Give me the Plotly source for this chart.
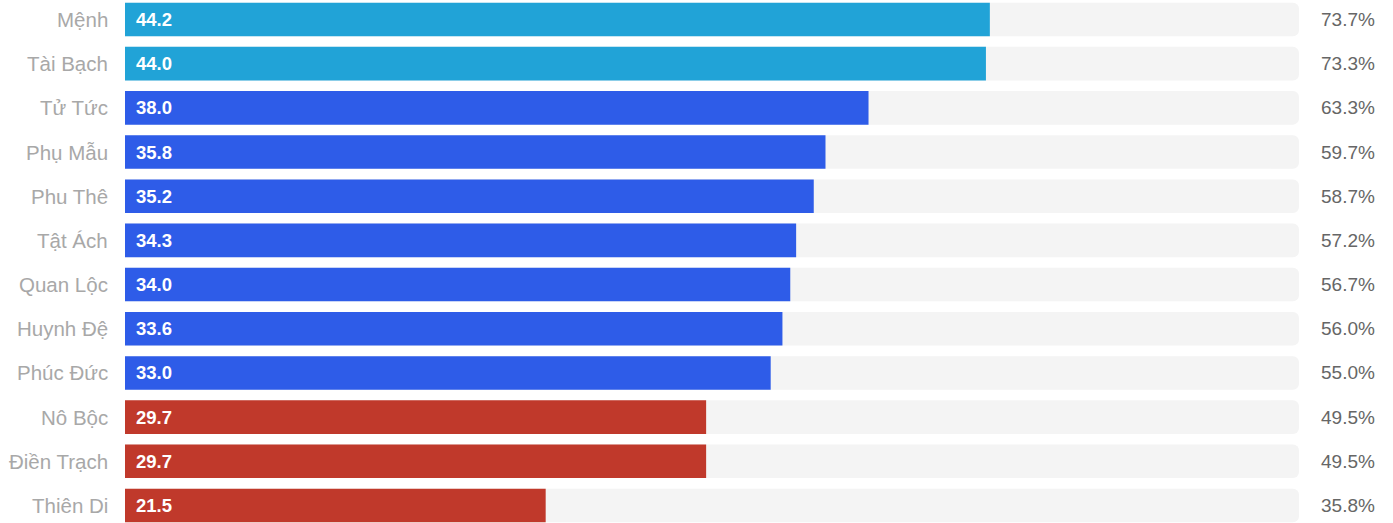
import plotly.graph_objects as go

categories = ["Mệnh", "Tài Bạch", "Tử Tức", "Phụ Mẫu", "Phu Thê", "Tật Ách",
              "Quan Lộc", "Huynh Đệ", "Phúc Đức", "Nô Bộc", "Điền Trạch", "Thiên Di"]
values = [44.2, 44.0, 38.0, 35.8, 35.2, 34.3, 34.0, 33.6, 33.0, 29.7, 29.7, 21.5]
percents = ["73.7%", "73.3%", "63.3%", "59.7%", "58.7%", "57.2%",
            "56.7%", "56.0%", "55.0%", "49.5%", "49.5%", "35.8%"]
max_value = 60
colors = ["#21a3d7", "#21a3d7"] + ["#2e5ce8"] * 7 + ["#c0392b"] * 3

ys = list(range(len(categories)))

fig = go.Figure()
fig.add_trace(go.Bar(
    y=ys, x=[max_value] * len(ys), orientation="h",
    marker=dict(color="#f4f4f4", cornerradius=6, line=dict(width=0)),
    width=0.76, hoverinfo="skip", showlegend=False,
))
fig.add_trace(go.Bar(
    y=ys, x=values, orientation="h",
    marker=dict(color=colors, cornerradius=5, line=dict(width=0)),
    width=0.76, showlegend=False,
))

annotations = []
for i, (c, v, p) in enumerate(zip(categories, values, percents)):
    annotations.append(dict(x=0, y=i, xref="x", yref="y", text=c, showarrow=False,
                            xanchor="right", xshift=-15,
                            font=dict(family="Liberation Sans, Arial", size=20.5, color="#a8a8a8")))
    annotations.append(dict(x=0, y=i, xref="x", yref="y", text=f"<b>{v:.1f}</b>", showarrow=False,
                            xanchor="left", xshift=9,
                            font=dict(family="Liberation Sans, Arial", size=18.5, color="#ffffff")))
    annotations.append(dict(x=1, y=i, xref="paper", yref="y", text=p, showarrow=False,
                            xanchor="right", xshift=78,
                            font=dict(family="Liberation Sans, Arial", size=19, color="#666666")))

fig.update_layout(
    width=1393, height=523,
    margin=dict(l=125, r=94, t=0, b=0),
    barmode="overlay",
    plot_bgcolor="white", paper_bgcolor="white",
    xaxis=dict(range=[0, max_value], visible=False, fixedrange=True),
    yaxis=dict(range=[11.397, -0.441], visible=False, fixedrange=True),
    annotations=annotations,
)

fig.write_html("out.html", config={"displayModeBar": False},
               post_script="document.body.style.margin='0';document.body.style.overflow='hidden';")
